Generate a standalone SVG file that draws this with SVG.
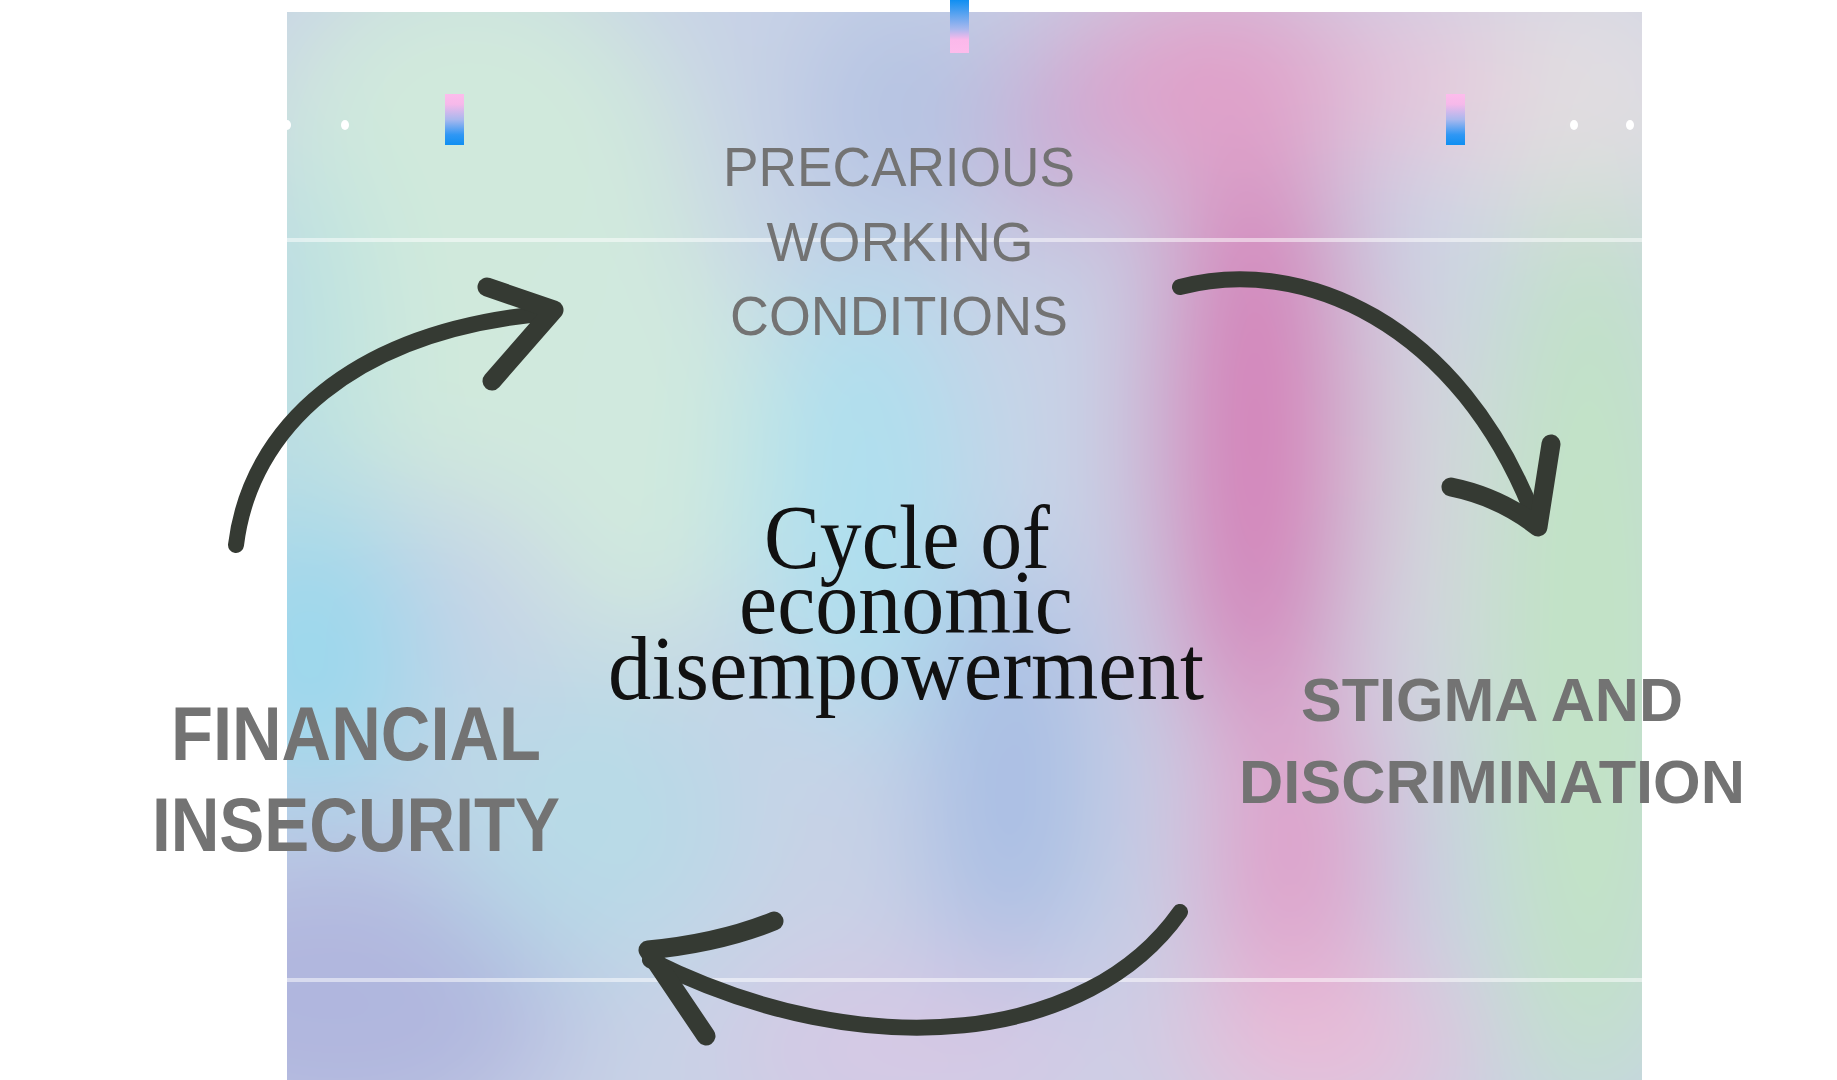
<svg xmlns="http://www.w3.org/2000/svg" width="1837" height="1080" viewBox="0 0 1837 1080">
  <defs>
    <clipPath id="panelClip"><rect x="287" y="12" width="1355" height="1068"/></clipPath>
    <filter id="soft" filterUnits="userSpaceOnUse" x="0" y="-200" width="1837" height="1480">
      <feGaussianBlur stdDeviation="60"/>
    </filter>
    <linearGradient id="barDown" x1="0" y1="0" x2="0" y2="1">
      <stop offset="0" stop-color="#0f8ff2"/>
      <stop offset="0.55" stop-color="#a9b8ee"/>
      <stop offset="0.75" stop-color="#fbb8ea"/>
      <stop offset="1" stop-color="#fdbcec"/>
    </linearGradient>
    <linearGradient id="barUp" x1="0" y1="0" x2="0" y2="1">
      <stop offset="0" stop-color="#fdbcec"/>
      <stop offset="0.2" stop-color="#f6b9ea"/>
      <stop offset="0.5" stop-color="#a9b8ee"/>
      <stop offset="0.8" stop-color="#2f97f4"/>
      <stop offset="1" stop-color="#0f8ff2"/>
    </linearGradient>
    <style>
      .lbl { font-family: "Liberation Sans", Arial, sans-serif; fill: #737373; text-anchor: middle; }
      .reg { font-weight: 400; font-size: 55px; }
      .bold { font-weight: 700; }
      .title { font-family: "Liberation Serif", "Times New Roman", serif; fill: #111111; font-size: 90px; text-anchor: middle; }
      .shaft { fill: none; stroke: #353a33; stroke-width: 16; stroke-linecap: round; stroke-linejoin: round; }
      .head { fill: none; stroke: #353a33; stroke-width: 19; stroke-linecap: round; stroke-linejoin: round; }
      .dot { fill: #ffffff; }
      .rule { fill: #ffffff; opacity: 0.5; }
    </style>
  </defs>

  <rect x="0" y="0" width="1837" height="1080" fill="#ffffff"/>

  <!-- gradient panel -->
  <g id="panel" clip-path="url(#panelClip)">
    <g filter="url(#soft)">
      <rect x="100" y="-150" width="1700" height="1380" fill="#c8d2e6"/>
      <ellipse cx="470" cy="230" rx="230" ry="280" fill="#d0e9dc"/>
      <ellipse cx="290" cy="380" rx="70" ry="230" fill="#b8e0e2"/>
      <ellipse cx="310" cy="660" rx="120" ry="150" fill="#9cd8ec"/>
      <ellipse cx="340" cy="1000" rx="230" ry="150" fill="#b0b6de"/>
      <ellipse cx="590" cy="820" rx="150" ry="150" fill="#b8dae7"/>
      <ellipse cx="640" cy="430" rx="130" ry="220" fill="#d0e9de"/>
      <ellipse cx="860" cy="500" rx="110" ry="230" fill="#afdfee"/>
      <ellipse cx="900" cy="110" rx="90" ry="120" fill="#b3c2e2"/>
      <ellipse cx="1010" cy="780" rx="80" ry="210" fill="#a6bce3"/>
      <ellipse cx="1060" cy="130" rx="60" ry="120" fill="#c8a8d3"/>
      <ellipse cx="1255" cy="430" rx="95" ry="340" fill="#d47fb8"/>
      <ellipse cx="1220" cy="80" rx="140" ry="110" fill="#e0a0c9"/>
      <ellipse cx="1290" cy="860" rx="90" ry="180" fill="#df9fc9"/>
      <ellipse cx="1320" cy="1050" rx="150" ry="80" fill="#e9bcd8"/>
      <ellipse cx="920" cy="1050" rx="200" ry="90" fill="#d6c8e4"/>
      <ellipse cx="1580" cy="100" rx="140" ry="140" fill="#e1dde1"/>
      <ellipse cx="1420" cy="500" rx="35" ry="260" fill="#dcd6dc"/>
      <ellipse cx="1590" cy="650" rx="110" ry="470" fill="#c1e3c5"/>
      <ellipse cx="1420" cy="80" rx="80" ry="80" fill="#e8c4da"/>
    </g>
    <rect class="rule" x="287" y="238" width="1355" height="4"/>
    <rect class="rule" x="287" y="978" width="1355" height="4"/>
  </g>

  <!-- decorations -->
  <g id="decor">
    <rect x="950" y="0" width="19" height="53" fill="url(#barDown)"/>
    <rect x="445" y="94" width="19" height="51" fill="url(#barUp)"/>
    <rect x="1446" y="94" width="19" height="51" fill="url(#barUp)"/>
    <ellipse class="dot" cx="287" cy="125" rx="4" ry="5"/>
    <ellipse class="dot" cx="345" cy="125" rx="4" ry="5"/>
    <ellipse class="dot" cx="1574" cy="125" rx="4" ry="5"/>
    <ellipse class="dot" cx="1630" cy="125" rx="4" ry="5"/>
  </g>

  <!-- connectors -->
  <g id="connectors">
    <g id="arrow-financial-to-precarious">
      <path class="shaft" d="M236,545 C250,430 350,330 550,313"/>
      <path class="head" d="M487,287 L554,310 L492,381"/>
    </g>
    <g id="arrow-precarious-to-stigma">
      <path class="shaft" d="M1180,287 C1300,255 1460,320 1536,522"/>
      <path class="head" d="M1451,487 Q1500,497 1538,527 L1551,444"/>
    </g>
    <g id="arrow-stigma-to-financial">
      <path class="shaft" d="M1180,912 C1090,1040 870,1070 650,960"/>
      <path class="head" d="M774,921 Q720,943 648,950 L706,1036"/>
    </g>
  </g>

  <!-- nodes -->
  <g id="node-precarious">
    <text class="lbl reg" x="899" y="186" textLength="352" lengthAdjust="spacingAndGlyphs">PRECARIOUS</text>
    <text class="lbl reg" x="900" y="261" textLength="267" lengthAdjust="spacingAndGlyphs">WORKING</text>
    <text class="lbl reg" x="899" y="335" textLength="338" lengthAdjust="spacingAndGlyphs">CONDITIONS</text>
  </g>
  <g id="node-stigma">
    <text class="lbl bold" x="1492" y="721" font-size="61" textLength="382" lengthAdjust="spacingAndGlyphs">STIGMA AND</text>
    <text class="lbl bold" x="1492" y="803" font-size="61" textLength="506" lengthAdjust="spacingAndGlyphs">DISCRIMINATION</text>
  </g>
  <g id="node-financial">
    <text class="lbl bold" x="356" y="760" font-size="76" textLength="370" lengthAdjust="spacingAndGlyphs">FINANCIAL</text>
    <text class="lbl bold" x="356" y="851" font-size="76" textLength="408" lengthAdjust="spacingAndGlyphs">INSECURITY</text>
  </g>
  <g id="node-center">
    <text class="title" x="907" y="568" textLength="286" lengthAdjust="spacingAndGlyphs">Cycle of</text>
    <text class="title" x="906" y="633" textLength="334" lengthAdjust="spacingAndGlyphs">economic</text>
    <text class="title" x="906" y="699" textLength="596" lengthAdjust="spacingAndGlyphs">disempowerment</text>
  </g>
</svg>
